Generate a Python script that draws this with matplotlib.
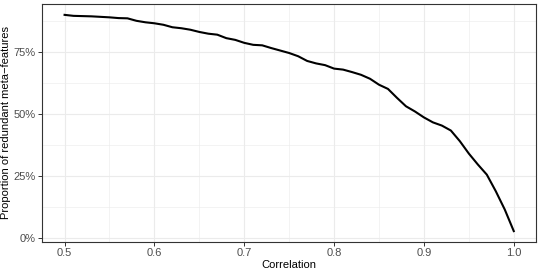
import matplotlib
matplotlib.use('Agg')
import matplotlib.pyplot as plt
from matplotlib.ticker import FuncFormatter, MultipleLocator

plt.rcParams['font.family'] = ['Liberation Sans', 'DejaVu Sans']

correlation = [0.50, 0.51, 0.52, 0.53, 0.54, 0.55, 0.56, 0.57, 0.58, 0.59,
               0.60, 0.61, 0.62, 0.63, 0.64, 0.65, 0.66, 0.67, 0.68, 0.69,
               0.70, 0.71, 0.72, 0.73, 0.74, 0.75, 0.76, 0.77, 0.78, 0.79,
               0.80, 0.81, 0.82, 0.83, 0.84, 0.85, 0.86, 0.87, 0.88, 0.89,
               0.90, 0.91, 0.92, 0.93, 0.94, 0.95, 0.96, 0.97, 0.98, 0.99,
               1.00]
proportion = [90.0, 89.6, 89.5, 89.4, 89.2, 89.0, 88.7, 88.6, 87.6, 87.0,
              86.6, 86.0, 85.0, 84.6, 84.0, 83.1, 82.4, 82.0, 80.6, 79.9,
              78.7, 77.9, 77.7, 76.6, 75.6, 74.6, 73.3, 71.4, 70.4, 69.7,
              68.3, 67.9, 66.9, 65.8, 64.2, 61.8, 60.1, 56.5, 53.1, 51.0,
              48.6, 46.6, 45.3, 43.3, 39.0, 34.0, 29.6, 25.5, 18.8, 11.4,
              2.7]

fig = plt.figure(figsize=(5.4, 2.7), dpi=100)
ax = fig.add_axes([0.078, 0.104, 0.915, 0.881])

ax.plot(correlation, [p / 100 for p in proportion], color='black', lw=1.5,
        solid_joinstyle='round', zorder=3)

ax.set_xlim(0.475, 1.025)
ymin, ymax = min(proportion) / 100, max(proportion) / 100
pad = (ymax - ymin) * 0.05
ax.set_ylim(ymin - pad, ymax + pad)

ax.xaxis.set_major_locator(MultipleLocator(0.1))
ax.xaxis.set_minor_locator(MultipleLocator(0.05))
ax.yaxis.set_major_locator(MultipleLocator(0.25))
ax.yaxis.set_minor_locator(MultipleLocator(0.125))
ax.xaxis.set_major_formatter(FuncFormatter(lambda v, p: f'{v:.1f}'))
ax.yaxis.set_major_formatter(FuncFormatter(lambda v, p: f'{v*100:.0f}%'))

ax.grid(which='major', color='#ebebeb', lw=0.8, zorder=0)
ax.grid(which='minor', color='#ebebeb', lw=0.4, zorder=0)
ax.set_axisbelow(True)

for s in ax.spines.values():
    s.set_color('#333333')
    s.set_linewidth(0.8)

ax.tick_params(which='major', length=3, width=0.7, color='#333333',
               labelsize=8, labelcolor='#4d4d4d', pad=1.5)
ax.tick_params(which='minor', length=0)

ax.set_xlabel('Correlation', fontsize=8, labelpad=1)
ax.set_ylabel('Proportion of redundant meta\u2212features', fontsize=8, labelpad=2)

fig.savefig('out.png', dpi=100)
